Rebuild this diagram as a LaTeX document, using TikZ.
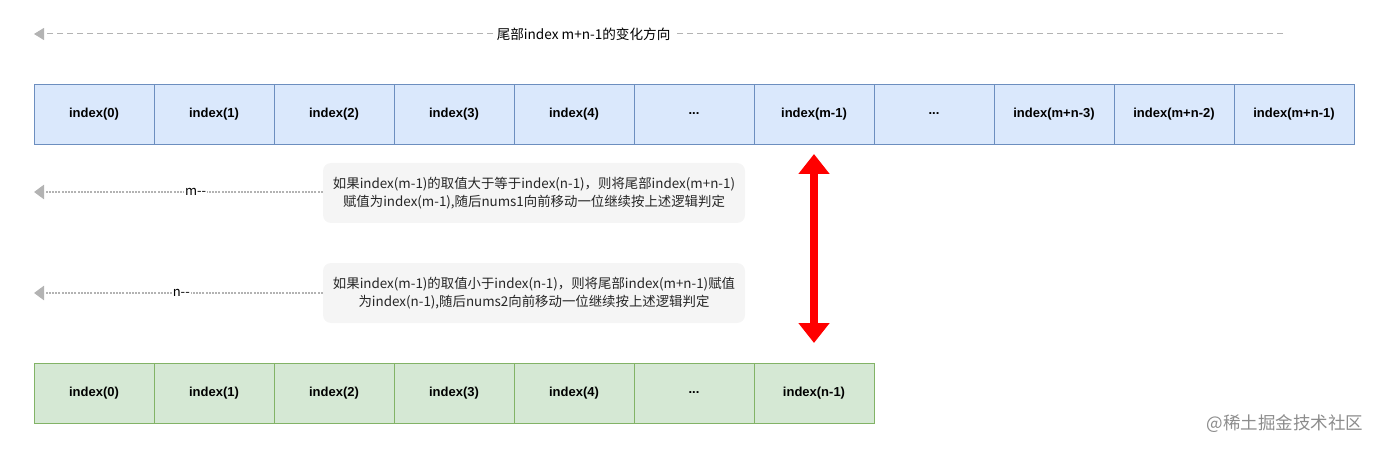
\documentclass[tikz,border=0pt]{standalone}
\usepackage{fontspec}
\setmainfont{Liberation Sans}
\newfontfamily\cjk{Noto Sans CJK SC}
\usetikzlibrary{positioning, arrows.meta}
\definecolor{topfill}{HTML}{DAE8FC}
\definecolor{topline}{HTML}{6C8EBF}
\definecolor{botfill}{HTML}{D5E8D4}
\definecolor{botline}{HTML}{82B366}
\definecolor{hintfill}{HTML}{F5F5F5}
\definecolor{guide}{HTML}{B3B3B3}
\tikzstyle{topcell} = [rectangle, draw=topline, fill=topfill, minimum width=120pt, minimum height=60pt, outer sep=0pt, inner sep=0pt, font=\fontsize{13}{15}\selectfont\bfseries]
\tikzstyle{botcell} = [topcell, draw=botline, fill=botfill]
\tikzstyle{hint} = [rectangle, rounded corners=8pt, fill=hintfill, text=black!85, minimum width=422pt, minimum height=60pt, align=center, font=\cjk\fontsize{13.4}{18}\selectfont]
\tikzstyle{trail} = [draw=guide, line width=2.6pt, dash pattern=on 2pt off 1.2pt, -{Triangle[width=14pt,length=10pt]}]
\tikzstyle{heading} = [draw=guide, line width=1pt, dash pattern=on 6pt off 4pt, -{Triangle[width=12pt,length=10pt]}]
\tikzstyle{swap} = [draw=red, line width=8pt, {Triangle[width=30pt,length=20pt]}-{Triangle[width=30pt,length=20pt]}]

\begin{document}
\begin{tikzpicture}[x=1pt, y=1pt, node distance=0pt]
    \useasboundingbox (0,0) rectangle (1379,-449);

    % Top row
    \node [topcell, anchor=north west] (a0) at (34,-84) {index(0)};
    \node [topcell, right=of a0] (a1) {index(1)};
    \node [topcell, right=of a1] (a2) {index(2)};
    \node [topcell, right=of a2] (a3) {index(3)};
    \node [topcell, right=of a3] (a4) {index(4)};
    \node [topcell, right=of a4] (a5) {...};
    \node [topcell, right=of a5] (am1) {index(m-1)};
    \node [topcell, right=of am1] (a7) {...};
    \node [topcell, right=of a7] (amn3) {index(m+n-3)};
    \node [topcell, right=of amn3] (amn2) {index(m+n-2)};
    \node [topcell, right=of amn2] (amn1) {index(m+n-1)};

    % Bottom row
    \node [botcell, anchor=north west] (b0) at (34,-363) {index(0)};
    \node [botcell, right=of b0] (b1) {index(1)};
    \node [botcell, right=of b1] (b2) {index(2)};
    \node [botcell, right=of b2] (b3) {index(3)};
    \node [botcell, right=of b3] (b4) {index(4)};
    \node [botcell, right=of b4] (b5) {...};
    \node [botcell, right=of b5] (bn1) {index(n-1)};

    % Hints
    \node [hint] (bigger) at (534,-193) {如果index(m-1)的取值大于等于index(n-1)，则将尾部index(m+n-1)\\赋值为index(m-1),随后nums1向前移动一位继续按上述逻辑判定};
    \node [hint] (smaller) at (534,-293) {如果index(m-1)的取值小于index(n-1)，则将尾部index(m+n-1)赋值\\为index(n-1),随后nums2向前移动一位继续按上述逻辑判定};

    % Free ends
    \coordinate (headR) at (1283,-34);
    \coordinate (headL) at (34,-34);
    \coordinate (mEnd) at (34,-192);
    \coordinate (nEnd) at (34,-293);

    % Arrows
    \path [heading] (headR) -- node[pos=0.56, fill=white, inner sep=3pt, font=\cjk\fontsize{13.6}{15}\selectfont] {尾部index m+n-1的变化方向} (headL);
    \path [trail] (bigger.west |- mEnd) -- node[pos=0.44, fill=white, inner sep=1pt, font=\cjk\fontsize{13}{15}\selectfont] {m--} (mEnd);
    \path [trail] (smaller.west |- nEnd) -- node[pos=0.49, fill=white, inner sep=1pt, font=\cjk\fontsize{13}{15}\selectfont] {n--} (nEnd);
    \path [swap, shorten <=10pt, shorten >=20pt] (am1.south) -- (bn1.north);

    % Watermark
    \node [text=black!45, font=\cjk\fontsize{17.5}{19}\selectfont] (mark) at (1285,-424) {@稀土掘金技术社区};
\end{tikzpicture}
\end{document}
